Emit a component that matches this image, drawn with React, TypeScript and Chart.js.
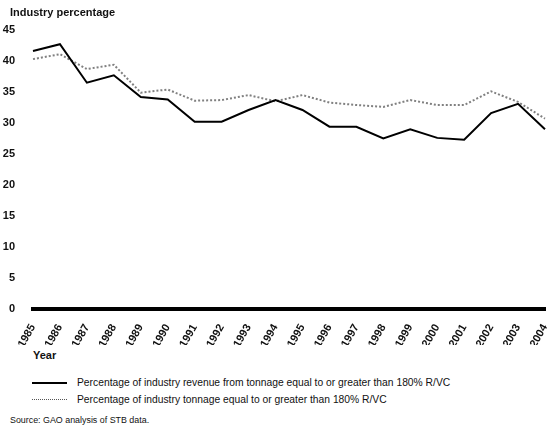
import React, { useEffect, useRef } from "react";
import { Chart, registerables } from "chart.js";

Chart.register(...registerables);

const years = ["1985","1986","1987","1988","1989","1990","1991","1992","1993","1994","1995","1996","1997","1998","1999","2000","2001","2002","2003","2004"];
const revenueShare = [41.6, 42.7, 36.5, 37.7, 34.2, 33.8, 30.2, 30.2, 32.1, 33.7, 32.1, 29.4, 29.4, 27.5, 29.0, 27.6, 27.3, 31.6, 33.1, 29.0];
const tonnageShare = [40.3, 41.1, 38.7, 39.4, 34.9, 35.4, 33.6, 33.7, 34.5, 33.5, 34.5, 33.3, 32.9, 32.6, 33.7, 32.9, 32.9, 35.1, 33.4, 30.7];
const revenueLabel = "Percentage of industry revenue from tonnage equal to or greater than 180% R/VC";
const tonnageLabel = "Percentage of industry tonnage equal to or greater than 180% R/VC";
const yTitle = "Industry percentage";
const xTitle = "Year";
const sourceNote = "Source: GAO analysis of STB data.";

const FONT = "'Liberation Sans', Arial, Helvetica, sans-serif";

export default function App() {
  const ref = useRef<HTMLCanvasElement>(null);
  useEffect(() => {
    const chart = new Chart(ref.current!, {
      type: "line",
      data: {
        labels: years,
        datasets: [
          { label: revenueLabel, data: revenueShare, borderColor: "#000", borderWidth: 2, pointRadius: 0, tension: 0 },
          { label: tonnageLabel, data: tonnageShare, borderColor: "#808080", borderWidth: 2, borderDash: [2, 2], pointRadius: 0, tension: 0 },
        ],
      },
      options: {
        responsive: false,
        animation: false,
        layout: { padding: { left: 0, right: 3, top: 30, bottom: 0 } },
        plugins: { legend: { display: false }, tooltip: { enabled: false } },
        scales: {
          x: {
            offset: false,
            grid: { display: false },
            border: { display: true, color: "#000", width: 4 },
            ticks: { autoSkip: false, minRotation: 60, maxRotation: 60, padding: 5, color: "#111", font: { family: FONT, size: 11, weight: "bold" } },
            afterFit: (s: any) => { s.height = 36; s.paddingLeft = 0; s.paddingRight = 0; },
          },
          y: {
            min: 0, max: 45,
            grid: { display: false },
            border: { display: false },
            ticks: { stepSize: 5, padding: 10, color: "#111", font: { family: FONT, size: 11, weight: "bold" } },
            afterFit: (s: any) => { s.width = 33; },
          },
        },
      },
    });
    return () => chart.destroy();
  }, []);

  const txt: React.CSSProperties = { position: "absolute", fontFamily: FONT, color: "#111", whiteSpace: "nowrap", lineHeight: 1 };
  return (
    <div style={{ position: "fixed", left: 0, top: 0, width: 548, height: 428, overflow: "hidden", background: "#fff" }}>
      <canvas ref={ref} width={548} height={345} style={{ position: "absolute", left: 0, top: 0 }} />
      <div style={{ ...txt, left: 10, top: 7, fontSize: 11, fontWeight: "bold" }}>{yTitle}</div>
      <div style={{ ...txt, left: 33, top: 350, fontSize: 11, fontWeight: "bold" }}>{xTitle}</div>
      <div style={{ position: "absolute", left: 32, top: 382, width: 35, height: 0, borderTop: "2px solid #000" }} />
      <div style={{ ...txt, left: 77, top: 378, fontSize: 10.3 }}>{revenueLabel}</div>
      <div style={{ position: "absolute", left: 32, top: 399, width: 35, height: 0, borderTop: "1px dotted #555" }} />
      <div style={{ ...txt, left: 77, top: 395, fontSize: 10.3 }}>{tonnageLabel}</div>
      <div style={{ ...txt, left: 10, top: 416, fontSize: 8.9 }}>{sourceNote}</div>
    </div>
  );
}
